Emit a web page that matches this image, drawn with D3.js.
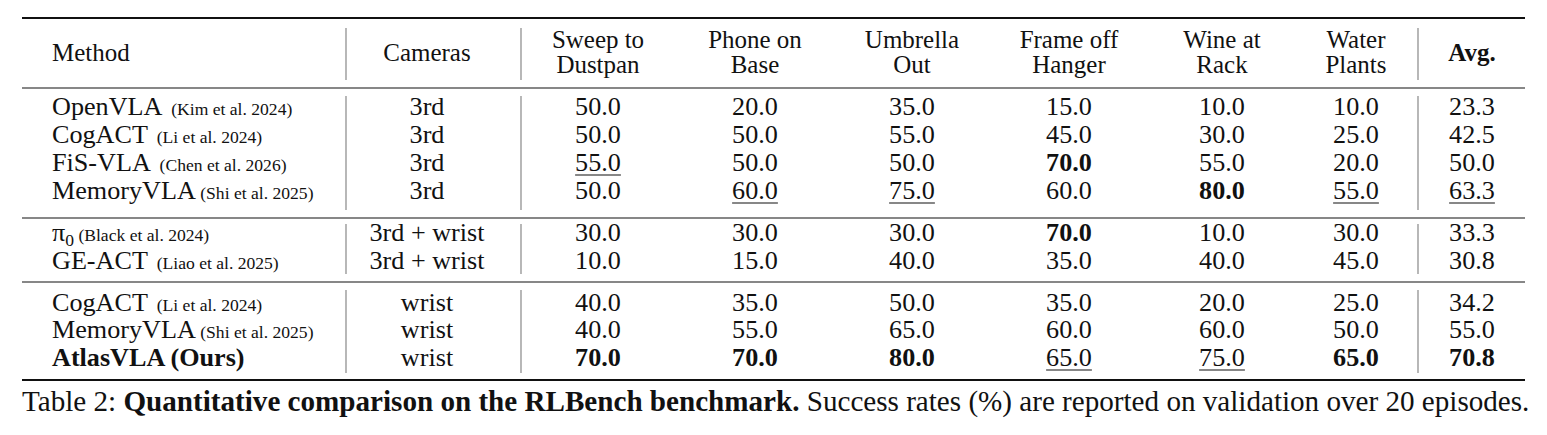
<!DOCTYPE html>
<html><head><meta charset="utf-8">
<script src="https://cdn.jsdelivr.net/npm/d3@7"></script>
<style>body{margin:0;background:#fff}text{font-family:"Liberation Serif","Times New Roman",Times,serif;fill:#111}</style>
</head><body><svg id="c" width="1547" height="435"></svg>
<script>
const headers=[["Method"],["Cameras"],["Sweep to","Dustpan"],["Phone on","Base"],["Umbrella","Out"],["Frame off","Hanger"],["Wine at","Rack"],["Water","Plants"],["Avg."]];
const methods=["OpenVLA","CogACT","FiS-VLA","MemoryVLA","π","GE-ACT","CogACT","MemoryVLA","AtlasVLA (Ours)"];
const cites=["(Kim et al. 2024)","(Li et al. 2024)","(Chen et al. 2026)","(Shi et al. 2025)","(Black et al. 2024)","(Liao et al. 2025)","(Li et al. 2024)","(Shi et al. 2025)",""];
const cameras=["3rd","3rd","3rd","3rd","3rd + wrist","3rd + wrist","wrist","wrist","wrist"];
const values=[[50.0,20.0,35.0,15.0,10.0,10.0,23.3],[50.0,50.0,55.0,45.0,30.0,25.0,42.5],[55.0,50.0,50.0,70.0,55.0,20.0,50.0],[50.0,60.0,75.0,60.0,80.0,55.0,63.3],[30.0,30.0,30.0,70.0,10.0,30.0,33.3],[10.0,15.0,40.0,35.0,40.0,45.0,30.8],[40.0,35.0,50.0,35.0,20.0,25.0,34.2],[40.0,55.0,65.0,60.0,60.0,50.0,55.0],[70.0,70.0,80.0,65.0,75.0,65.0,70.8]];
const bold=[[],[],[3],[4],[3],[],[],[],[0,1,2,5,6]];
const under=[[],[],[0],[1,2,5,6],[],[],[],[],[3,4]];
const rowY=[108,136,164,192,234,262,304,331,359];
const colX=[52,427,598,755,912,1069,1222,1356,1472];
const svg=d3.select("#c");
// caption first to calibrate font scale
const cap=svg.append("text").attr("x",22).attr("y",411);
cap.append("tspan").text("Table 2: ");
cap.append("tspan").attr("font-weight","bold").text("Quantitative comparison on the RLBench benchmark.");
cap.append("tspan").text(" Success rates (%) are reported on validation over 20 episodes.");
cap.attr("font-size",24);
const k=Math.min(1.35,Math.max(0.8,1508/cap.node().getComputedTextLength()));
cap.attr("font-size",24*k);
const F=22*k*0.98, Fs=14.5*k, Fh=21*k*0.98;
const line=(y,w)=>svg.append("line").attr("x1",22).attr("x2",1525).attr("y1",y).attr("y2",y).attr("stroke","#111").attr("stroke-width",w);
line(18,2.2);line(88,1.2);line(218,1.2);line(282,1.2);line(380,2.2);
const vx=[346,521,1418];
[[28,80],[96,210],[224,274],[290,373]].forEach(([a,b])=>vx.forEach(x=>svg.append("line").attr("x1",x).attr("x2",x).attr("y1",a).attr("y2",b).attr("stroke","#888").attr("stroke-width",1.2)));
headers.forEach((h,i)=>{const t=svg.append("text").attr("x",colX[i]).attr("text-anchor",i==0?"start":"middle").attr("font-size",Fh).attr("font-weight",i==8?"bold":"normal");
 h.forEach((s,j)=>t.append("tspan").attr("x",colX[i]).attr("y",h.length==1?61:48+j*25).text(s));});
methods.forEach((m,r)=>{const y=rowY[r]+7;
 const t=svg.append("text").attr("x",colX[0]).attr("y",y).attr("font-size",F).attr("font-weight",r==8?"bold":"normal").text(m);
 if(r==4){t.append("tspan").attr("font-size",Fs).attr("dy",5).text("0");t.append("tspan").attr("font-size",Fs).attr("dy",-5).text("\u00a0"+cites[r]);}
 else if(cites[r]) t.append("tspan").attr("font-size",Fs).text((r==3||r==7?" ":"\u00a0\u00a0")+cites[r]);
 svg.append("text").attr("x",colX[1]).attr("y",y).attr("text-anchor","middle").attr("font-size",F).text(cameras[r]);
 values[r].forEach((v,c)=>{const x=colX[c+2];const t=svg.append("text").attr("x",x).attr("y",y).attr("text-anchor","middle").attr("font-size",F).attr("font-weight",bold[r].includes(c)?"bold":"normal").text(v.toFixed(1));
  if(under[r].includes(c)){const w=t.node().getComputedTextLength();svg.append("line").attr("x1",x-w/2).attr("x2",x+w/2).attr("y1",y+4).attr("y2",y+4).attr("stroke","#111").attr("stroke-width",1.1);}});
});
</script></body></html>
